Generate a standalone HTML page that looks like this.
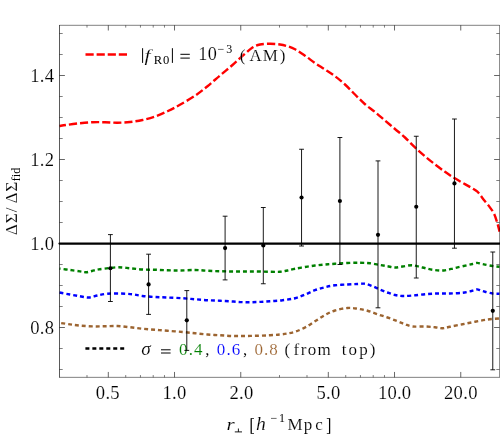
<!DOCTYPE html>
<html><head><meta charset="utf-8"><title>chart</title>
<style>html,body{margin:0;padding:0;background:#fff;}svg{display:block;font-family:"Liberation Serif",serif;will-change:transform;}</style></head><body>
<svg width="500" height="435" viewBox="0 0 500 435">
<rect x="0" y="0" width="500" height="435" fill="#fff"/>
<g fill="none" stroke-width="2.4">
<path d="M59.50,126.00 C60.83,125.79 64.08,125.21 67.50,124.75 C70.92,124.29 75.83,123.67 80.00,123.25 C84.17,122.83 88.33,122.42 92.50,122.25 C96.67,122.08 100.83,122.17 105.00,122.25 C109.17,122.33 113.33,122.79 117.50,122.75 C121.67,122.71 125.83,122.46 130.00,122.00 C134.17,121.54 138.33,120.92 142.50,120.00 C146.67,119.08 150.83,117.96 155.00,116.50 C159.17,115.04 163.42,113.17 167.50,111.25 C171.58,109.33 174.92,107.58 179.50,105.00 C184.08,102.42 190.33,98.88 195.00,95.75 C199.67,92.62 203.33,89.62 207.50,86.25 C211.67,82.88 215.83,79.04 220.00,75.50 C224.17,71.96 228.33,68.62 232.50,65.00 C236.67,61.38 241.67,56.67 245.00,53.75 C248.33,50.83 250.00,49.04 252.50,47.50 C255.00,45.96 257.08,45.12 260.00,44.50 C262.92,43.88 266.67,43.75 270.00,43.75 C273.33,43.75 277.08,44.08 280.00,44.50 C282.92,44.92 285.00,45.46 287.50,46.25 C290.00,47.04 292.08,47.67 295.00,49.25 C297.92,50.83 301.67,53.46 305.00,55.75 C308.33,58.04 311.67,60.71 315.00,63.00 C318.33,65.29 321.67,67.29 325.00,69.50 C328.33,71.71 331.67,73.75 335.00,76.25 C338.33,78.75 341.67,81.46 345.00,84.50 C348.33,87.54 351.67,91.21 355.00,94.50 C358.33,97.79 361.67,101.33 365.00,104.25 C368.33,107.17 371.67,109.29 375.00,112.00 C378.33,114.71 381.67,117.67 385.00,120.50 C388.33,123.33 391.67,126.17 395.00,129.00 C398.33,131.83 401.67,134.43 405.00,137.50 C408.33,140.57 411.67,144.27 415.00,147.40 C418.33,150.53 421.67,153.47 425.00,156.30 C428.33,159.13 431.67,161.82 435.00,164.40 C438.33,166.98 441.77,169.52 445.00,171.80 C448.23,174.08 450.93,175.97 454.40,178.10 C457.87,180.23 462.62,182.78 465.80,184.60 C468.98,186.42 471.57,187.82 473.50,189.00 C475.43,190.18 476.28,190.70 477.40,191.70 C478.52,192.70 479.18,193.72 480.20,195.00 C481.22,196.28 481.88,197.33 483.50,199.40 C485.12,201.47 488.12,204.97 489.90,207.40 C491.68,209.83 492.93,211.28 494.20,214.00 C495.47,216.72 496.60,220.77 497.50,223.70 C498.40,226.63 499.25,230.28 499.60,231.60" stroke="#ff0000" stroke-dasharray="8.08,3.03" stroke-dashoffset="1.5"/>
<path d="M59.50,268.60 C61.25,268.83 66.58,269.53 70.00,270.00 C73.42,270.47 77.30,271.03 80.00,271.40 C82.70,271.77 84.20,272.27 86.20,272.20 C88.20,272.13 89.90,271.47 92.00,271.00 C94.10,270.53 95.87,269.90 98.80,269.40 C101.73,268.90 106.40,268.35 109.60,268.00 C112.80,267.65 114.60,267.26 118.00,267.30 C121.40,267.34 125.92,267.88 130.00,268.25 C134.08,268.62 138.33,269.25 142.50,269.50 C146.67,269.75 150.83,269.62 155.00,269.75 C159.17,269.88 163.42,270.12 167.50,270.25 C171.58,270.38 174.92,270.54 179.50,270.50 C184.08,270.46 190.33,269.96 195.00,270.00 C199.67,270.04 203.33,270.54 207.50,270.75 C211.67,270.96 215.83,271.12 220.00,271.25 C224.17,271.38 228.33,271.46 232.50,271.50 C236.67,271.54 240.83,271.50 245.00,271.50 C249.17,271.50 253.33,271.46 257.50,271.50 C261.67,271.54 266.25,271.71 270.00,271.75 C273.75,271.79 277.08,271.96 280.00,271.75 C282.92,271.54 285.00,271.00 287.50,270.50 C290.00,270.00 292.08,269.33 295.00,268.75 C297.92,268.17 301.67,267.54 305.00,267.00 C308.33,266.46 311.67,265.92 315.00,265.50 C318.33,265.08 321.67,264.79 325.00,264.50 C328.33,264.21 331.25,264.00 335.00,263.75 C338.75,263.50 343.33,263.17 347.50,263.00 C351.67,262.83 356.25,262.71 360.00,262.75 C363.75,262.79 366.67,262.88 370.00,263.25 C373.33,263.62 377.08,264.50 380.00,265.00 C382.92,265.50 385.00,265.83 387.50,266.25 C390.00,266.67 392.50,267.46 395.00,267.50 C397.50,267.54 399.58,266.88 402.50,266.50 C405.42,266.12 409.17,265.08 412.50,265.25 C415.83,265.42 419.17,266.75 422.50,267.50 C425.83,268.25 428.96,269.25 432.50,269.75 C436.04,270.25 440.00,270.79 443.75,270.50 C447.50,270.21 451.04,268.90 455.00,268.00 C458.96,267.10 464.43,265.80 467.50,265.10 C470.57,264.40 471.78,264.17 473.40,263.80 C475.02,263.43 475.93,262.90 477.20,262.90 C478.47,262.90 479.70,263.52 481.00,263.80 C482.30,264.08 483.08,264.23 485.00,264.60 C486.92,264.97 490.08,265.64 492.50,266.00 C494.92,266.36 498.33,266.62 499.50,266.75" stroke="#008000" stroke-dasharray="3.96,2.97" stroke-dashoffset="2.8"/>
<path d="M59.50,292.50 C61.25,292.83 66.58,293.88 70.00,294.50 C73.42,295.12 76.88,295.75 80.00,296.25 C83.12,296.75 85.83,297.62 88.75,297.50 C91.67,297.38 94.38,296.12 97.50,295.50 C100.62,294.88 103.75,294.08 107.50,293.75 C111.25,293.42 115.83,293.42 120.00,293.50 C124.17,293.58 128.75,293.83 132.50,294.25 C136.25,294.67 138.75,295.54 142.50,296.00 C146.25,296.46 150.83,296.75 155.00,297.00 C159.17,297.25 162.92,297.29 167.50,297.50 C172.08,297.71 177.92,297.96 182.50,298.25 C187.08,298.54 190.83,298.92 195.00,299.25 C199.17,299.58 203.33,300.00 207.50,300.25 C211.67,300.50 215.83,300.54 220.00,300.75 C224.17,300.96 228.33,301.25 232.50,301.50 C236.67,301.75 240.83,302.17 245.00,302.25 C249.17,302.33 253.33,302.17 257.50,302.00 C261.67,301.83 265.83,301.54 270.00,301.25 C274.17,300.96 278.33,300.75 282.50,300.25 C286.67,299.75 291.25,299.19 295.00,298.25 C298.75,297.31 301.67,295.94 305.00,294.60 C308.33,293.26 311.67,291.43 315.00,290.20 C318.33,288.97 321.67,288.02 325.00,287.20 C328.33,286.38 331.25,285.75 335.00,285.30 C338.75,284.85 343.75,284.72 347.50,284.50 C351.25,284.28 354.58,284.12 357.50,284.00 C360.42,283.88 362.50,283.38 365.00,283.75 C367.50,284.12 370.00,285.29 372.50,286.25 C375.00,287.21 377.50,288.46 380.00,289.50 C382.50,290.54 385.00,291.58 387.50,292.50 C390.00,293.42 392.50,294.42 395.00,295.00 C397.50,295.58 399.58,295.92 402.50,296.00 C405.42,296.08 408.75,295.79 412.50,295.50 C416.25,295.21 420.83,294.58 425.00,294.25 C429.17,293.92 433.33,293.62 437.50,293.50 C441.67,293.38 445.83,293.62 450.00,293.50 C454.17,293.38 459.17,293.12 462.50,292.75 C465.83,292.38 468.15,291.69 470.00,291.30 C471.85,290.91 472.40,290.72 473.60,290.40 C474.80,290.08 475.97,289.37 477.20,289.40 C478.43,289.43 479.70,290.21 481.00,290.60 C482.30,290.99 483.08,291.27 485.00,291.75 C486.92,292.23 490.08,293.17 492.50,293.50 C494.92,293.83 498.33,293.71 499.50,293.75" stroke="#0000ff" stroke-dasharray="3.963,2.972"/>
<path d="M59.50,322.80 C61.25,323.07 66.58,323.93 70.00,324.40 C73.42,324.87 76.25,325.27 80.00,325.60 C83.75,325.93 88.33,326.29 92.50,326.40 C96.67,326.51 100.83,326.32 105.00,326.25 C109.17,326.18 113.33,325.83 117.50,326.00 C121.67,326.17 125.83,326.79 130.00,327.25 C134.17,327.71 138.33,328.33 142.50,328.75 C146.67,329.17 150.83,329.42 155.00,329.75 C159.17,330.08 162.92,330.38 167.50,330.75 C172.08,331.12 177.92,331.58 182.50,332.00 C187.08,332.42 190.83,332.83 195.00,333.25 C199.17,333.67 203.33,334.17 207.50,334.50 C211.67,334.83 215.83,335.00 220.00,335.25 C224.17,335.50 228.33,335.88 232.50,336.00 C236.67,336.12 240.83,336.04 245.00,336.00 C249.17,335.96 253.33,335.88 257.50,335.75 C261.67,335.62 266.25,335.46 270.00,335.25 C273.75,335.04 277.08,334.79 280.00,334.50 C282.92,334.21 285.00,333.96 287.50,333.50 C290.00,333.04 292.08,332.75 295.00,331.75 C297.92,330.75 301.67,329.25 305.00,327.50 C308.33,325.75 311.67,323.33 315.00,321.25 C318.33,319.17 321.67,316.79 325.00,315.00 C328.33,313.21 331.25,311.67 335.00,310.50 C338.75,309.33 343.75,308.29 347.50,308.00 C351.25,307.71 354.17,308.29 357.50,308.75 C360.83,309.21 364.17,309.83 367.50,310.75 C370.83,311.67 374.17,313.12 377.50,314.25 C380.83,315.38 384.17,316.33 387.50,317.50 C390.83,318.67 394.58,320.12 397.50,321.25 C400.42,322.38 402.50,323.38 405.00,324.25 C407.50,325.12 409.17,326.12 412.50,326.50 C415.83,326.88 421.25,326.38 425.00,326.50 C428.75,326.62 432.08,326.96 435.00,327.25 C437.92,327.54 440.00,328.33 442.50,328.25 C445.00,328.17 446.67,327.42 450.00,326.75 C453.33,326.08 458.33,325.08 462.50,324.25 C466.67,323.42 470.83,322.54 475.00,321.75 C479.17,320.96 483.42,320.04 487.50,319.50 C491.58,318.96 497.50,318.67 499.50,318.50" stroke="#9c6430" stroke-dasharray="3.966,2.975" stroke-dashoffset="5.2"/>
</g>
<line x1="59.5" y1="243.5" x2="499.5" y2="243.5" stroke="#000" stroke-width="2.25" stroke-linecap="round"/>
<line x1="85.5" y1="54.5" x2="127" y2="54.5" stroke="#ff0000" stroke-width="2.4" stroke-dasharray="8.2,2.9"/>
<line x1="85.4" y1="348.5" x2="125" y2="348.5" stroke="#000" stroke-width="2.5" stroke-dasharray="4,2.96"/>
<g stroke="#000" fill="none">
<path d="M59.50,25.00 V377.65" stroke-width="0.65"/>
<path d="M499.50,25.00 V377.65" stroke-width="0.45"/>
<path d="M59.50,25.30 H499.50 M59.50,377.35 H499.50" stroke-width="0.5"/>
<path d="M108.31,377.35 v-5.4 M108.31,25.30 v5.2 M174.53,377.35 v-5.4 M174.53,25.30 v5.2 M240.76,377.35 v-5.4 M240.76,25.30 v5.2 M328.31,377.35 v-5.4 M328.31,25.30 v5.2 M394.53,377.35 v-5.4 M394.53,25.30 v5.2 M460.76,377.35 v-5.4 M460.76,25.30 v5.2" stroke-width="0.6"/>
<path d="M86.99,377.35 v-2.3 M86.99,25.30 v2.3 M125.73,377.35 v-2.3 M125.73,25.30 v2.3 M140.45,377.35 v-2.3 M140.45,25.30 v2.3 M153.21,377.35 v-2.3 M153.21,25.30 v2.3 M164.47,377.35 v-2.3 M164.47,25.30 v2.3 M279.50,377.35 v-2.3 M279.50,25.30 v2.3 M306.99,377.35 v-2.3 M306.99,25.30 v2.3 M345.73,377.35 v-2.3 M345.73,25.30 v2.3 M360.45,377.35 v-2.3 M360.45,25.30 v2.3 M373.21,377.35 v-2.3 M373.21,25.30 v2.3 M384.47,377.35 v-2.3 M384.47,25.30 v2.3" stroke-width="0.5"/>
<path d="M59.50,327.50 h5.4 M499.50,327.50 h-5.4 M59.50,243.50 h5.4 M499.50,243.50 h-5.4 M59.50,159.50 h5.4 M499.50,159.50 h-5.4 M59.50,75.50 h5.4 M499.50,75.50 h-5.4" stroke-width="0.6"/>
<path d="M59.50,369.50 h3.2 M499.50,369.50 h-3.2 M59.50,348.50 h3.2 M499.50,348.50 h-3.2 M59.50,306.50 h3.2 M499.50,306.50 h-3.2 M59.50,285.50 h3.2 M499.50,285.50 h-3.2 M59.50,264.50 h3.2 M499.50,264.50 h-3.2 M59.50,222.50 h3.2 M499.50,222.50 h-3.2 M59.50,201.50 h3.2 M499.50,201.50 h-3.2 M59.50,180.50 h3.2 M499.50,180.50 h-3.2 M59.50,138.50 h3.2 M499.50,138.50 h-3.2 M59.50,117.50 h3.2 M499.50,117.50 h-3.2 M59.50,96.50 h3.2 M499.50,96.50 h-3.2 M59.50,54.50 h3.2 M499.50,54.50 h-3.2 M59.50,33.50 h3.2 M499.50,33.50 h-3.2" stroke-width="0.5"/>
</g>
<g font-size="18.6" fill="#000" stroke="#fff" stroke-width="0.14">
<text x="107.9" y="399.3" text-anchor="middle" letter-spacing="0.3">0.5</text>
<text x="174.6" y="399.3" text-anchor="middle" letter-spacing="0.3">1.0</text>
<text x="241.5" y="399.3" text-anchor="middle" letter-spacing="0.3">2.0</text>
<text x="328.6" y="399.3" text-anchor="middle" letter-spacing="0.3">5.0</text>
<text x="394.6" y="399.3" text-anchor="middle" letter-spacing="0.2">10.0</text>
<text x="460.9" y="399.3" text-anchor="middle" letter-spacing="0.3">20.0</text>
<text x="54.3" y="333.8" text-anchor="end" letter-spacing="0.3">0.8</text>
<text x="54.3" y="249.8" text-anchor="end" letter-spacing="0.3">1.0</text>
<text x="54.3" y="165.8" text-anchor="end" letter-spacing="0.3">1.2</text>
<text x="54.3" y="81.8" text-anchor="end" letter-spacing="0.3">1.4</text>
</g>
<g font-size="17.0" fill="#000" stroke="#fff" stroke-width="0.14">
<text transform="translate(144.4,60.6) scale(1.2,0.95)" font-style="italic" font-size="18" stroke="#fff" stroke-width="0.15">f</text>
<text y="60.7"><tspan x="153.7" dy="3.0" font-size="12.6" letter-spacing="0.8" stroke="none">R0</tspan><tspan x="198.2" dy="-3.3" letter-spacing="0.4" font-size="18.2">10</tspan><tspan x="217.4" dy="-7.6" font-size="12.0" letter-spacing="2.2" stroke="none">−3</tspan><tspan x="239.8" dy="7.9">(</tspan><tspan x="249.4" letter-spacing="1.1">AM</tspan><tspan x="279.8">)</tspan></text>
<path d="M142.6,48.2 V62.9 M172.4,48.2 V62.9" stroke="#000" stroke-width="1" fill="none"/>
<path d="M180.4,54.3 H189.8 M180.4,58.1 H189.8" stroke="#000" stroke-width="1" fill="none"/>
<text y="354.8"><tspan x="141.2" font-style="italic" font-size="19.2">σ</tspan><tspan x="179.1" fill="#008000" letter-spacing="1.1">0.4</tspan><tspan x="205.3">,</tspan><tspan x="216.8" fill="#0000ff" letter-spacing="1.1">0.6</tspan><tspan x="243.0">,</tspan><tspan x="254.4" fill="#9c6430" letter-spacing="1.0">0.8</tspan><tspan x="284.4">(</tspan><tspan x="293.6" letter-spacing="1.4">from</tspan><tspan x="341.8" letter-spacing="2.1">top</tspan><tspan x="369.8">)</tspan></text>
<path d="M161.0,349.8 H170.6 M161.0,353.0 H170.6" stroke="#000" stroke-width="1" fill="none"/>
<text transform="translate(226.5,430.3) scale(1.17,0.87)" font-style="italic" font-size="18">r</text>
<text transform="translate(256.0,430.3) scale(1.09,1)" font-style="italic" font-size="18">h</text>
<text y="430.3"><tspan x="270.4" dy="-8.4" font-size="12.0" letter-spacing="1.8" stroke="none">−1</tspan><tspan x="287.5" dy="8.4">M</tspan><tspan x="303.7">p</tspan><tspan x="315.3">c</tspan></text>
<path d="M234.8,431.9 H242.0 M238.4,428.5 V431.9" stroke="#000" stroke-width="0.9" fill="none"/>
<path d="M251.2,418.2 V433.8 M329.6,418.2 V433.8" stroke="#000" stroke-width="1.25" fill="none"/>
<path d="M251.2,418.5 H254.0 M251.2,433.5 H254.0 M329.6,418.5 H326.8 M329.6,433.5 H326.8" stroke="#000" stroke-width="0.7" fill="none"/>
<text transform="translate(16.6,235.2) rotate(-90)" font-size="17.2"><tspan x="0" letter-spacing="0.9">ΔΣ/</tspan><tspan x="31.6" letter-spacing="0.7">ΔΣ</tspan><tspan dy="3.4" font-size="12.0" stroke="none">fid</tspan></text>
</g>
<g stroke="#000" stroke-width="1" fill="none">
<path d="M110.40,234.60 V301.50 M108.00,234.60 h4.8 M108.00,301.50 h4.8" stroke-width="0.9"/>
<path d="M148.60,254.20 V314.40 M146.20,254.20 h4.8 M146.20,314.40 h4.8" stroke-width="0.9"/>
<path d="M186.80,290.60 V350.40 M184.40,290.60 h4.8 M184.40,350.40 h4.8" stroke-width="0.9"/>
<path d="M225.10,216.20 V279.90 M222.70,216.20 h4.8 M222.70,279.90 h4.8" stroke-width="0.9"/>
<path d="M263.30,207.50 V283.75 M260.90,207.50 h4.8 M260.90,283.75 h4.8" stroke-width="0.9"/>
<path d="M301.55,149.25 V246.00 M299.15,149.25 h4.8 M299.15,246.00 h4.8" stroke-width="0.9"/>
<path d="M339.90,137.50 V264.50 M337.50,137.50 h4.8 M337.50,264.50 h4.8" stroke-width="0.9"/>
<path d="M378.00,160.90 V307.80 M375.60,160.90 h4.8 M375.60,307.80 h4.8" stroke-width="0.9"/>
<path d="M416.25,136.25 V278.00 M413.85,136.25 h4.8 M413.85,278.00 h4.8" stroke-width="0.9"/>
<path d="M454.45,119.00 V248.20 M452.05,119.00 h4.8 M452.05,248.20 h4.8" stroke-width="0.9"/>
<path d="M492.78,252.00 V369.80 M490.38,252.00 h4.8 M490.38,369.80 h4.8" stroke-width="0.9"/>
</g>
<g fill="#000">
<circle cx="110.40" cy="268.25" r="2.1"/>
<circle cx="148.60" cy="284.40" r="2.1"/>
<circle cx="186.80" cy="320.30" r="2.1"/>
<circle cx="225.10" cy="248.10" r="2.1"/>
<circle cx="263.30" cy="245.50" r="2.1"/>
<circle cx="301.55" cy="197.50" r="2.1"/>
<circle cx="339.90" cy="201.00" r="2.1"/>
<circle cx="378.00" cy="234.80" r="2.1"/>
<circle cx="416.25" cy="206.75" r="2.1"/>
<circle cx="454.45" cy="183.40" r="2.1"/>
<circle cx="492.78" cy="310.85" r="2.1"/>
</g>
</svg></body></html>
